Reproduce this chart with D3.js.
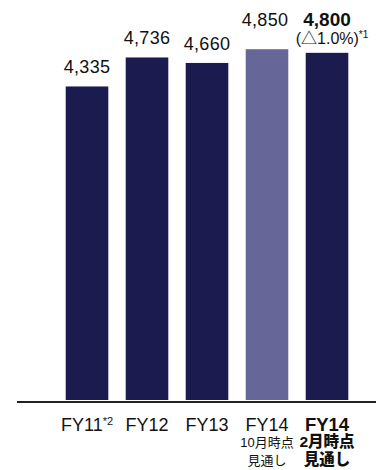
<!DOCTYPE html>
<html>
<head>
<meta charset="utf-8">
<script src="https://cdn.jsdelivr.net/npm/d3@7"></script>
<style>
  html, body { margin: 0; padding: 0; background: #ffffff; }
  svg { display: block; }
  text { font-family: "Liberation Sans", Arial, "Noto Sans CJK JP", sans-serif; fill: #111; }
</style>
</head>
<body>
<div id="chart"></div>
<script>
// Sales by fiscal year (units as reported)
const categories = ["FY11", "FY12", "FY13", "FY14a", "FY14b"];
const values = [4335, 4736, 4660, 4850, 4800];
const valueLabels = ["4,335", "4,736", "4,660", "4,850", "4,800"];
const axisMain = ["FY11", "FY12", "FY13", "FY14", "FY14"];
const axisNotes = ["*2", "", "", "", ""];
const axisSub1 = ["", "", "", "10月時点", "2月時点"];
const axisSub2 = ["", "", "", "見通し", "見通し"];
const changeLabel = "(△1.0%)";
const changeNote = "*1";
// 0 = actual, 1 = earlier forecast, 2 = latest forecast
const kinds = [0, 0, 0, 1, 2];

const W = 382, H = 470;
const colors = ["#1c1b4f", "#666699", "#1c1b4f"];

const svg = d3.select("#chart").append("svg")
  .attr("width", W).attr("height", H);

const x = d3.scaleBand()
  .domain(categories)
  .range([57, 357])
  .paddingInner(0.29)
  .paddingOuter(0.145);

const y = d3.scaleLinear()
  .domain([0, 5500])
  .range([400, 2.2]);

// bars
svg.append("g").selectAll("rect")
  .data(categories)
  .join("rect")
  .attr("x", d => x(d))
  .attr("width", x.bandwidth())
  .attr("y", (d, i) => y(values[i]))
  .attr("height", (d, i) => y(0) - y(values[i]))
  .attr("fill", (d, i) => colors[kinds[i]]);

// baseline
svg.append("line")
  .attr("x1", 17).attr("x2", 376)
  .attr("y1", 402).attr("y2", 402)
  .attr("stroke", "#222").attr("stroke-width", 2);

// value labels
const topY = y(d3.max(values)) - 23;
categories.forEach((c, i) => {
  const cx = x(c) + x.bandwidth() / 2;
  if (kinds[i] === 0) {
    svg.append("text")
      .attr("x", cx).attr("y", y(values[i]) - 13)
      .attr("text-anchor", "middle")
      .style("font-size", "18px")
      .style("letter-spacing", "0.3px")
      .text(valueLabels[i]);
  } else if (kinds[i] === 1) {
    svg.append("text")
      .attr("x", cx - 2).attr("y", topY)
      .attr("text-anchor", "middle")
      .style("font-size", "18px")
      .style("letter-spacing", "0.3px")
      .text(valueLabels[i]);
  } else {
    svg.append("text")
      .attr("x", cx).attr("y", topY)
      .attr("text-anchor", "middle")
      .style("font-size", "19px")
      .style("font-weight", "bold")
      .text(valueLabels[i]);
    const t = svg.append("text")
      .attr("x", cx + 5).attr("y", topY + 18)
      .attr("text-anchor", "middle")
      .style("font-size", "16px");
    t.append("tspan").text(changeLabel);
    t.append("tspan").attr("dy", -6).style("font-size", "10px").text(changeNote);
  }
});

// category labels
categories.forEach((c, i) => {
  const cx = x(c) + x.bandwidth() / 2;
  const bold = kinds[i] === 2;
  const t = svg.append("text")
    .attr("x", cx).attr("y", 431)
    .attr("text-anchor", "middle")
    .style("font-size", bold ? "18.5px" : "18px")
    .style("font-weight", bold ? "bold" : "normal");
  t.append("tspan").text(axisMain[i]);
  if (axisNotes[i]) {
    t.append("tspan").attr("dy", -6).style("font-size", "11px").text(axisNotes[i]);
  }
  if (axisSub1[i]) {
    svg.append("text")
      .attr("x", cx).attr("y", 447)
      .attr("text-anchor", "middle")
      .style("font-size", bold ? "15.5px" : "13px")
      .style("font-weight", bold ? "900" : "normal")
      .text(axisSub1[i]);
    svg.append("text")
      .attr("x", cx).attr("y", 465)
      .attr("text-anchor", "middle")
      .style("font-size", bold ? "15.5px" : "13px")
      .style("font-weight", bold ? "900" : "normal")
      .text(axisSub2[i]);
  }
});
</script>
</body>
</html>
